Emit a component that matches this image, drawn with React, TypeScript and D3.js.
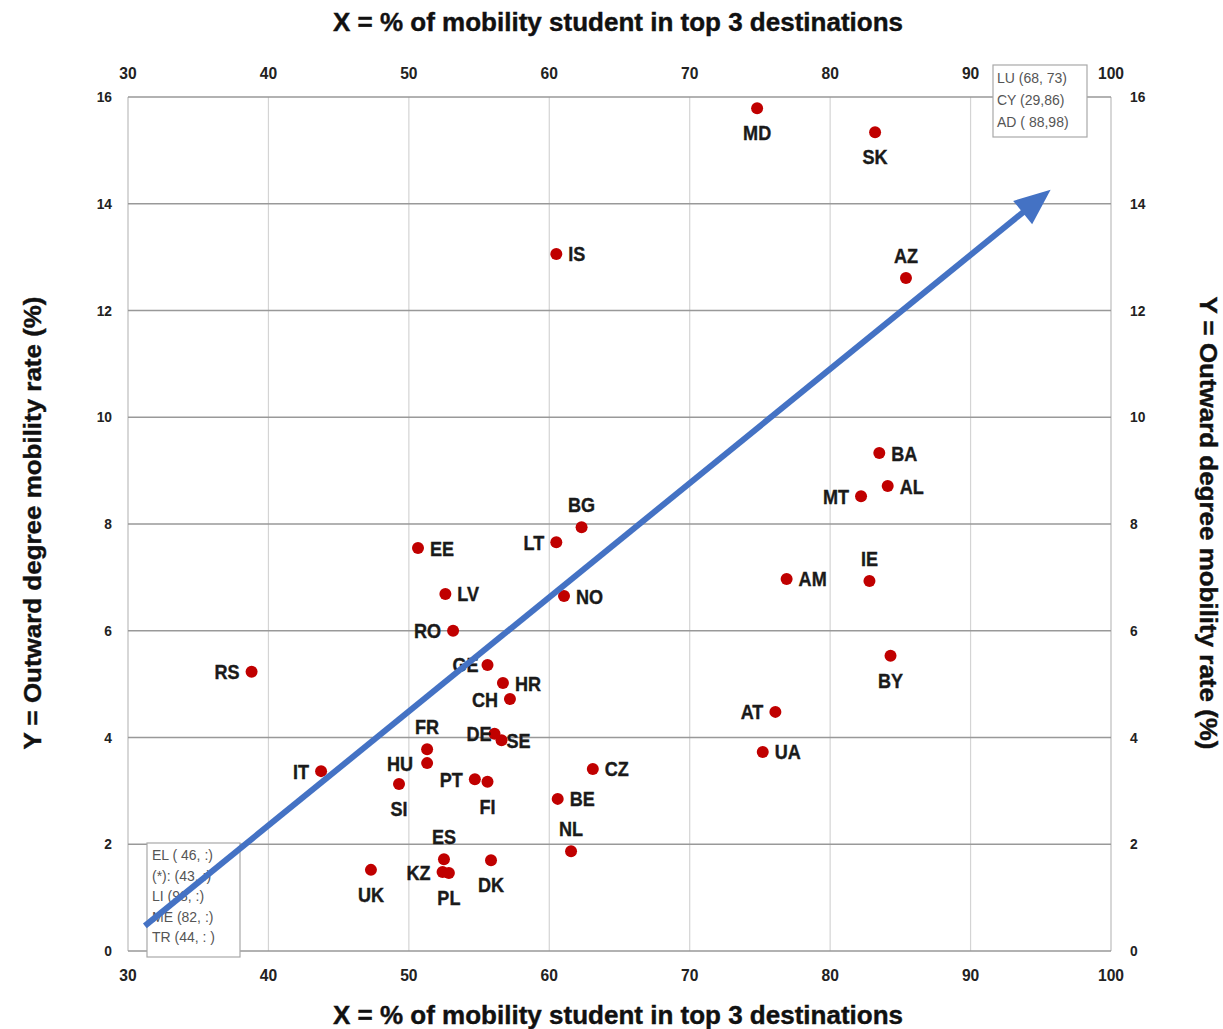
import React from "react";
import * as d3 from "d3";

// ---- data ----
const codes = ["MD","SK","IS","AZ","BA","AL","MT","BG","LT","EE","IE","AM","LV","NO","RO","RS","BY","GE","HR","CH","AT","DE","SE","FR","HU","UA","IT","CZ","SI","PT","FI","BE","NL","ES","DK","KZ","PL","UK"];
const xValues = [74.8,83.2,60.5,85.4,83.5,84.1,82.2,62.3,60.5,50.65,82.8,76.9,52.6,61.05,53.15,38.8,84.3,55.6,56.7,57.2,76.1,56.1,56.6,51.3,51.3,75.2,43.75,63.1,49.3,54.7,55.6,60.6,61.55,52.5,55.85,52.4,52.85,47.3];
const yValues = [15.79,15.34,13.06,12.61,9.33,8.71,8.52,7.94,7.66,7.55,6.93,6.97,6.69,6.65,6.0,5.23,5.53,5.36,5.02,4.72,4.48,4.07,3.95,3.78,3.52,3.73,3.37,3.41,3.13,3.22,3.17,2.85,1.87,1.72,1.70,1.48,1.46,1.52];
const labelSide = ["b","b","r","t","r","r","l","t","l","r","t","r","r","r","l","l","b","l","r","l","l","l","r","t","l","r","l","r","b","l","b","r","t","t","b","l","b","b"];

const xTicks = [30,40,50,60,70,80,90,100];
const yTicks = [0,2,4,6,8,10,12,14,16];

const noteTopRight = ["LU (68, 73)","CY (29,86)","AD ( 88,98)"];
const noteBottomLeft = ["EL ( 46, :)","(*): (43, :)","LI (98, :)","ME (82, :)","TR (44, : )"];

const arrowFrom = [31.2, 0.47];
const arrowTo = [95.7, 14.26];

const xTitle = "X = % of mobility student in top 3 destinations";
const yTitle = "Y = Outward degree mobility rate (%)";

// ---- layout ----
const W = 1223, H = 1029;
const FONT = "'Liberation Sans', Arial, Helvetica, sans-serif";
const labelDx: Record<string, number> = { GE: -9, DE: -3, SE: 5, HU: -14 };

export default function App() {
  const x = d3.scaleLinear().domain([30, 100]).range([128, 1111]);
  const y = d3.scaleLinear().domain([0, 16]).range([951, 97]);

  const pts = codes.map((c, i) => ({ c, x: xValues[i], y: yValues[i], s: labelSide[i] }));

  const x1 = x(arrowFrom[0]), y1 = y(arrowFrom[1]);
  const x2 = x(arrowTo[0]), y2 = y(arrowTo[1]);
  const ang = Math.atan2(y2 - y1, x2 - x1);
  const headLen = 36, headHalf = 15;
  const bx = x2 - headLen * Math.cos(ang), by = y2 - headLen * Math.sin(ang);
  const px = -Math.sin(ang), py = Math.cos(ang);
  const head = [
    [x2, y2],
    [bx + headHalf * px, by + headHalf * py],
    [bx - headHalf * px, by - headHalf * py],
  ];

  const label = (p: any) => {
    const cx = x(p.x), cy = y(p.y);
    let tx = cx, ty = cy, anchor = "middle";
    if (p.s === "r") { tx = cx + 12; ty = cy + 7.5; anchor = "start"; }
    else if (p.s === "l") { tx = cx - 12; ty = cy + 7.5; anchor = "end"; }
    else if (p.s === "t") { ty = cy - 15; }
    else { ty = cy + 32; }
    if (labelDx[p.c] !== undefined) tx = cx + labelDx[p.c];
    return (
      <text key={"l" + p.c} transform={`translate(${tx},${ty}) scale(0.86,1)`} textAnchor={anchor}
        fontFamily={FONT} fontWeight="bold" fontSize={21} fill="#1a1a1a" stroke="#1a1a1a" strokeWidth={0.4}>{p.c}</text>
    );
  };

  return (
    <svg width={W} height={H} style={{ position: "absolute", left: 0, top: 0, background: "#fff" }}
      xmlns="http://www.w3.org/2000/svg">
      <rect x={0} y={0} width={W} height={H} fill="#fff" />
      {/* vertical grid */}
      {xTicks.map(t => (
        <line key={"vx" + t} x1={x(t)} x2={x(t)} y1={y(16)} y2={y(0)}
          stroke={t === 30 || t === 100 ? "#bdbdbd" : "#d4d4d4"} strokeWidth={1.2} />
      ))}
      {/* horizontal grid */}
      {yTicks.map(t => (
        <line key={"hy" + t} x1={x(30)} x2={x(100)} y1={y(t)} y2={y(t)} stroke="#999" strokeWidth={1.4} />
      ))}
      {/* x tick labels top & bottom */}
      {xTicks.map(t => (
        <g key={"xt" + t} fontFamily={FONT} fontWeight="bold" fontSize={17} fill="#222">
          <text transform={`translate(${x(t)},79) scale(0.92,1)`} textAnchor="middle">{t}</text>
          <text transform={`translate(${x(t)},981) scale(0.92,1)`} textAnchor="middle">{t}</text>
        </g>
      ))}
      {/* y tick labels left & right */}
      {yTicks.map(t => (
        <g key={"yt" + t} fontFamily={FONT} fontWeight="bold" fontSize={15} fill="#222">
          <text transform={`translate(112,${y(t) + 5}) scale(0.92,1)`} textAnchor="end">{t}</text>
          <text transform={`translate(1130,${y(t) + 5}) scale(0.92,1)`} textAnchor="start">{t}</text>
        </g>
      ))}
      {/* titles */}
      <g fontFamily={FONT} fontWeight="bold" fill="#111" stroke="#111" strokeWidth={0.4}>
        <text x={618} y={31} textAnchor="middle" fontSize={25}
          textLength={570} lengthAdjust="spacingAndGlyphs">{xTitle}</text>
        <text x={618} y={1024} textAnchor="middle" fontSize={25}
          textLength={570} lengthAdjust="spacingAndGlyphs">{xTitle}</text>
        <text transform="translate(41,523) rotate(-90)" textAnchor="middle"
          fontSize={24} textLength={453} lengthAdjust="spacingAndGlyphs">{yTitle}</text>
        <text transform="translate(1200,523) rotate(90)" textAnchor="middle"
          fontSize={24} textLength={453} lengthAdjust="spacingAndGlyphs">{yTitle}</text>
      </g>

      {/* note boxes */}
      <rect x={993} y={65} width={94} height={72} fill="#fff" stroke="#a8a8a8" strokeWidth={1.2} />
      {noteTopRight.map((s, i) => (
        <text key={"n1" + i} x={997} y={83 + i * 22} fontFamily={FONT} fontSize={14} fill="#555">{s}</text>
      ))}
      <rect x={147} y={843} width={93} height={114} fill="#fff" stroke="#a8a8a8" strokeWidth={1.2} />
      {noteBottomLeft.map((s, i) => (
        <text key={"n2" + i} x={152} y={860 + i * 20.5} fontFamily={FONT} fontSize={14} fill="#555">{s}</text>
      ))}

      {/* points */}
      {pts.map(p => (
        <circle key={"c" + p.c} cx={x(p.x)} cy={y(p.y)} r={6} fill="#c00000" />
      ))}
      {pts.map(label)}

      {/* arrow */}
      <line x1={x1} y1={y1} x2={bx + 2 * Math.cos(ang)} y2={by + 2 * Math.sin(ang)} stroke="#4472c4" strokeWidth={6} />
      <polygon points={head.map(p => p.join(",")).join(" ")} fill="#4472c4" />
    </svg>
  );
}
